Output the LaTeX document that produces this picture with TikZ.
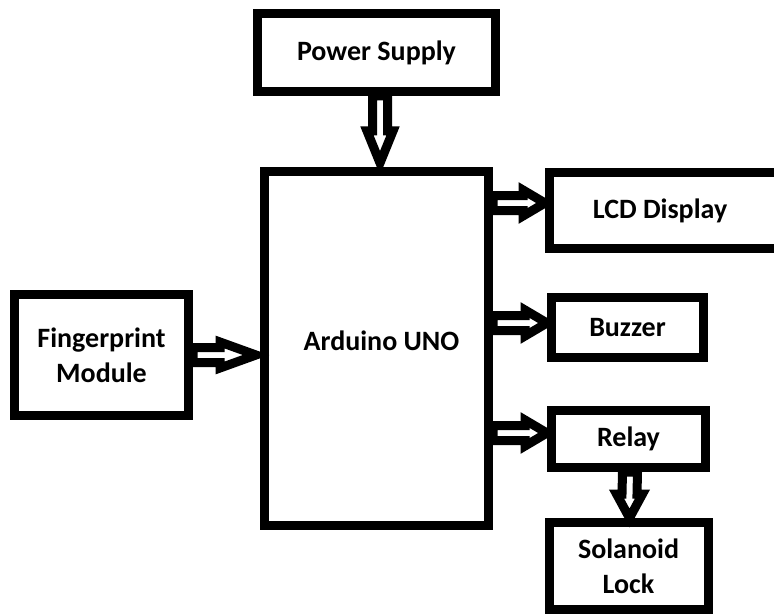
\documentclass[tikz,border=0pt]{standalone}
\usepackage{fontspec}
\setmainfont{Carlito}
\usetikzlibrary{positioning, calc}

\begin{document}
\begin{tikzpicture}[x=1pt, y=-1pt, node distance=50pt,
	txt/.style={font=\fontsize{28}{35}\selectfont\bfseries},
	box/.style={draw, rectangle, line width=9pt, align=center, inner sep=0pt, txt},
	fat/.style={draw, fill=white, line width=9pt, line join=miter},
	harrow/.style={fat, to path={($(\tikztostart)+(0,-7.5)$) -- ($(\tikztotarget)+(-#1,-7.5)$) -- ($(\tikztotarget)+(-#1,-13)$) -- (\tikztotarget) -- ($(\tikztotarget)+(-#1,13)$) -- ($(\tikztotarget)+(-#1,7.5)$) -- ($(\tikztostart)+(0,7.5)$) -- cycle}},
	varrow/.style={fat, to path={($(\tikztostart)+(-7.5,0)$) -- ($(\tikztotarget)+(-7.5,-#1)$) -- ($(\tikztotarget)+(-13,-#1)$) -- (\tikztotarget) -- ($(\tikztotarget)+(13,-#1)$) -- ($(\tikztotarget)+(7.5,-#1)$) -- ($(\tikztostart)+(7.5,0)$) -- cycle}}]

\useasboundingbox (0,0) rectangle (774,615);

% blocks
\node[box, minimum width=224pt, minimum height=354pt,
	label={[txt, xshift=5pt, yshift=8pt]center:Arduino UNO}] (ard) at (376.5,348.5) {};
\node[box, minimum width=238pt, minimum height=78pt, above=71pt of ard] (psu) {Power Supply};
\node[box, minimum width=174pt, minimum height=121pt, left=67pt of ard, yshift=-6.5pt] (finger) {Fingerprint\\Module};

\node[box, minimum width=250pt, minimum height=76pt, right=52pt of ard, yshift=138pt] (lcd) {};
\node[txt] (lcdtext) at (660,211) {LCD Display};
\node[box, minimum width=152pt, minimum height=60pt, right=54pt of ard, yshift=21pt] (buzzer) {Buzzer};
\node[box, minimum width=154pt, minimum height=57pt, right=54pt of ard, yshift=-90.5pt] (relay) {Relay};
\node[box, minimum width=159pt, minimum height=87pt, below=46pt of relay] (lock) {Solanoid\\Lock};

% arrows
\draw[varrow=32] ([xshift=3.5pt]psu.south) to ([xshift=3.5pt, yshift=4pt]ard.north);
\draw[harrow=36] (finger.east) to ([xshift=-4pt]ard.west |- finger.east);
\draw[harrow=22] (ard.east |- 0,203) to (lcd.west |- 0,203);
\draw[harrow=22] (ard.east |- 0,323) to ([yshift=4.5pt]buzzer.west);
\draw[harrow=22] (ard.east |- 0,433) to ([yshift=6pt]relay.west);
\draw[varrow=24] ([xshift=1.5pt]relay.south) to ([xshift=1pt]lock.north);

\end{tikzpicture}
\end{document}
